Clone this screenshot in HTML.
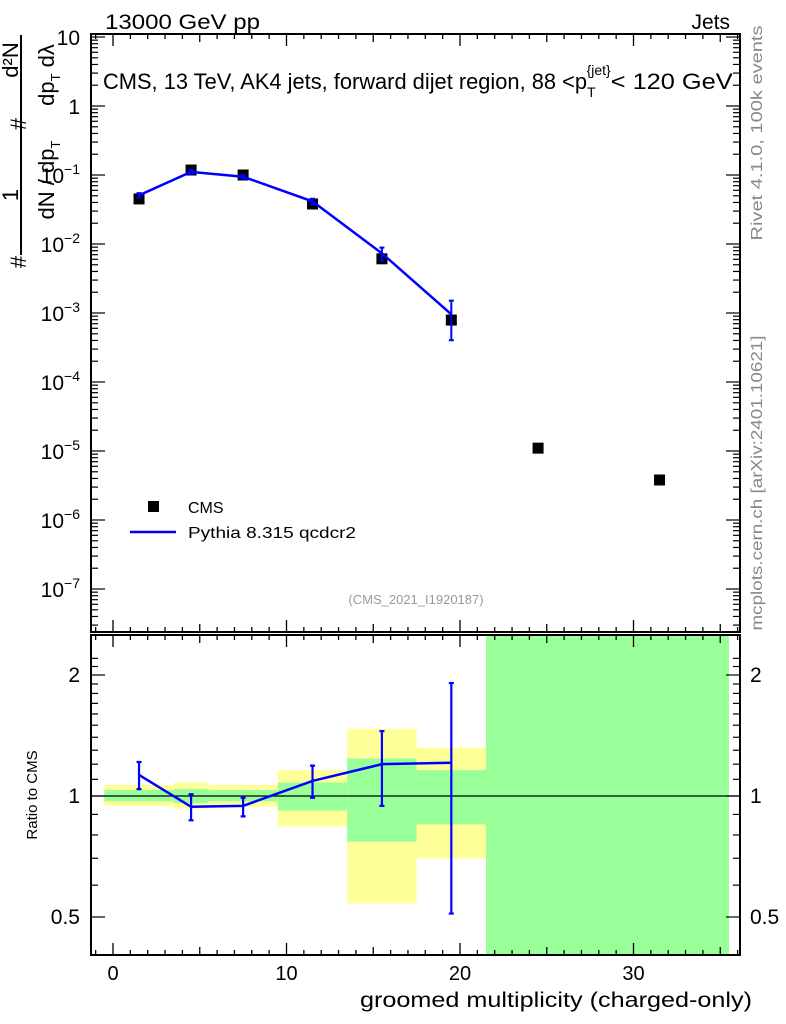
<!DOCTYPE html>
<html><head><meta charset="utf-8"><style>
html,body{margin:0;padding:0;background:#fff}
svg{display:block;font-family:"Liberation Sans",sans-serif}
</style></head><body>
<svg id="c" width="786" height="1024" viewBox="0 0 786 1024">
<rect width="786" height="1024" fill="#fff"/>
<g id="bands"></g>
<g id="frames"></g>
<g id="marks"></g>
<text x="105" y="29" font-size="21" textLength="155" lengthAdjust="spacingAndGlyphs">13000 GeV pp</text>
<text x="730" y="29" font-size="21" text-anchor="end">Jets</text>
<text x="103" y="89" font-size="22"><tspan textLength="484" lengthAdjust="spacingAndGlyphs">CMS, 13 TeV, AK4 jets, forward dijet region, 88 &lt;p</tspan><tspan font-size="14" dy="8">T</tspan><tspan font-size="14" dx="-9" dy="-22">{jet}</tspan><tspan dy="14" textLength="122" lengthAdjust="spacingAndGlyphs">&lt; 120 GeV</tspan></text>
<text x="416" y="604" font-size="13" fill="#999" text-anchor="middle">(CMS_2021_I1920187)</text>
<text transform="translate(762,133) rotate(-90)" font-size="16" fill="#888" text-anchor="middle" textLength="215" lengthAdjust="spacingAndGlyphs">Rivet 4.1.0,  100k events</text>
<text transform="translate(762,483) rotate(-90)" font-size="16" fill="#888" text-anchor="middle" textLength="295" lengthAdjust="spacingAndGlyphs">mcplots.cern.ch [arXiv:2401.10621]</text>
<g font-size="22">
<line x1="21" y1="35" x2="21" y2="255" stroke="#000" stroke-width="2"/>
<text transform="translate(18,60) rotate(-90)" text-anchor="middle">d²N</text>
<text transform="translate(18,195) rotate(-90)" text-anchor="middle">1</text>
<text transform="translate(26,262) rotate(-90)" text-anchor="middle">#</text>
<text transform="translate(54,180) rotate(-90)" text-anchor="middle">dN / dp<tspan font-size="13" dy="6">T</tspan></text>
<text transform="translate(26,124) rotate(-90)" text-anchor="middle">#</text>
<text transform="translate(54,75) rotate(-90)" text-anchor="middle">dp<tspan font-size="13" dy="6">T</tspan><tspan dy="-6"> dλ</tspan></text>
</g>
<text transform="translate(37,795) rotate(-90)" font-size="15" text-anchor="middle">Ratio to CMS</text>
<text x="752" y="1007" font-size="21" text-anchor="end" textLength="392" lengthAdjust="spacingAndGlyphs">groomed multiplicity (charged-only)</text>
<g>
<rect x="148" y="501" width="11" height="11" fill="#000"/>
<text x="188" y="513" font-size="16">CMS</text>
<line x1="130" y1="532" x2="176" y2="532" stroke="#0000ff" stroke-width="2.5"/>
<text x="188" y="538" font-size="16" textLength="168" lengthAdjust="spacingAndGlyphs">Pythia 8.315 qcdcr2</text>
</g>
</svg>
<script>
const cmsX=[1.5,4.5,7.5,11.5,15.5,19.5,24.5,31.5];
const cmsY=[0.045,0.118,0.100,0.038,0.0061,0.00079,1.1e-5,3.8e-6];
const mcX=[1.5,4.5,7.5,11.5,15.5,19.5];
const ratio=[1.128,0.94,0.945,1.09,1.20,1.21];
const ratioHi=[1.215,1.01,0.99,1.19,1.45,1.91];
const ratioLo=[1.04,0.87,0.89,0.99,0.945,0.51];
const binLo=[-0.5,3.5,5.5,9.5,13.5,17.5,21.5];
const binHi=[3.5,5.5,9.5,13.5,17.5,21.5,35.5];
const yelHi=[1.065,1.08,1.065,1.16,1.47,1.32,3];
const yelLo=[0.945,0.93,0.94,0.84,0.54,0.70,0.3];
const grnHi=[1.035,1.04,1.035,1.08,1.24,1.16,3];
const grnLo=[0.97,0.96,0.97,0.92,0.77,0.85,0.3];
const xTicks=[0,10,20,30];
const yExp=[1,0,-1,-2,-3,-4,-5,-6,-7];
const rTicks=[0.5,1,2];

const NS='http://www.w3.org/2000/svg';
const L=91,R=740,T=34,MB=632,RB=955;
const X=v=>113+(v-0)*17.35;
const Y=v=>37+(1-Math.log10(v))*69;
const RY=v=>796-Math.log2(v)*121;
function el(p,t,a,name,txt){const e=document.createElementNS(NS,t);for(const k in a)e.setAttribute(k,a[k]);if(txt!==undefined)e.textContent=txt;document.getElementById(p).appendChild(e);return e;}

for(let i=0;i<binLo.length;i++){
 const y1=Math.max(635,RY(yelHi[i])),y2=Math.min(RB,RY(yelLo[i]));
 const b=el('bands','rect',{x:X(binLo[i]),y:y1,width:X(binHi[i])-X(binLo[i]),height:y2-y1,fill:'#ffff99'});
 
 
 const g1=Math.max(635,RY(grnHi[i])),g2=Math.min(RB,RY(grnLo[i]));
 const g=el('bands','rect',{x:X(binLo[i]),y:g1,width:X(binHi[i])-X(binLo[i]),height:g2-g1,fill:'#99ff99'});
 
 
}
const f1=el('frames','rect',{x:L,y:T,width:R-L,height:MB-T,fill:'none',stroke:'#000','stroke-width':2});


const f2=el('frames','rect',{x:L,y:635,width:R-L,height:RB-635,fill:'none',stroke:'#000','stroke-width':2});


const one=el('frames','line',{x1:L,x2:R,y1:RY(1),y2:RY(1),stroke:'#000','stroke-width':1.2});


for(let v=-1;v<=36;v++){
 const maj=v%10===0,mid=v%5===0;const len=maj?12:(mid?8:5);const x=X(v);
 for(const [y,d] of [[T,1],[MB,-1],[635,1],[RB,-1]])el('frames','line',{x1:x,x2:x,y1:y,y2:y+d*len,stroke:'#000','stroke-width':1.3});
}
for(const v of xTicks){const t=el('frames','text',{x:X(v),y:980,'font-size':20,'text-anchor':'middle'},'',v);
 
 }
for(let e=-8;e<=1;e++){for(let m=1;m<10;m++){const v=m*Math.pow(10,e);const y=Y(v);if(y<T||y>MB)continue;const len=m===1?14:7;
 el('frames','line',{x1:L,x2:L+len,y1:y,y2:y,stroke:'#000','stroke-width':1.2});
 el('frames','line',{x1:R,x2:R-len,y1:y,y2:y,stroke:'#000','stroke-width':1.2});}}
for(const e of yExp){let t;
 if(e===1||e===0){t=el('frames','text',{x:80,y:Y(Math.pow(10,e))+8,'font-size':21,'text-anchor':'end'},'',e===1?'10':'1');}
 else{t=el('frames','text',{x:80,y:Y(Math.pow(10,e))+8,'font-size':21,'text-anchor':'end'});
  t.innerHTML='10<tspan font-size="14" dy="-9">\u2212'+(-e)+'</tspan>';}
 
 }
for(let v=0.4;v<=2.3;v+=0.1){const y=RY(v);if(y<635||y>RB)continue;const maj=[0.5,1,2].some(a=>Math.abs(a-v)<1e-6);const len=maj?14:7;
 el('frames','line',{x1:L,x2:L+len,y1:y,y2:y,stroke:'#000','stroke-width':1.2});
 el('frames','line',{x1:R,x2:R-len,y1:y,y2:y,stroke:'#000','stroke-width':1.2});}
for(const v of rTicks){for(const [x,a] of [[80,'end'],[750,'start']]){const t=el('frames','text',{x:x,y:RY(v)+7,'font-size':21,'text-anchor':a},'',String(v));
 
 }}
for(let i=0;i<cmsX.length;i++){const m=el('marks','rect',{x:X(cmsX[i])-5.5,y:Y(cmsY[i])-5.5,width:11,height:11,fill:'#000'});
 
 }
const mcY=ratio.map((r,i)=>cmsY[i]*r);
const pl=el('marks','polyline',{points:mcX.map((x,i)=>X(x)+','+Y(mcY[i])).join(' '),fill:'none',stroke:'#0000ff','stroke-width':2.5});


for(let i=0;i<mcX.length;i++){const x=X(mcX[i]);const hi=Y(cmsY[i]*ratioHi[i]),lo=Y(cmsY[i]*ratioLo[i]);
 const eb=el('marks','path',{d:`M${x},${hi}V${lo}M${x-2.5},${hi}h5M${x-2.5},${lo}h5`,stroke:'#0000ff','stroke-width':2,fill:'none'});
 
 }
const rl=el('marks','polyline',{points:mcX.map((x,i)=>X(x)+','+RY(ratio[i])).join(' '),fill:'none',stroke:'#0000ff','stroke-width':2.5});


for(let i=0;i<mcX.length;i++){const x=X(mcX[i]);const hi=RY(ratioHi[i]),lo=RY(ratioLo[i]);
 const eb=el('marks','path',{d:`M${x},${hi}V${lo}M${x-2.5},${hi}h5M${x-2.5},${lo}h5`,stroke:'#0000ff','stroke-width':2.2,fill:'none'});
 
 }
</script>
</body></html>
